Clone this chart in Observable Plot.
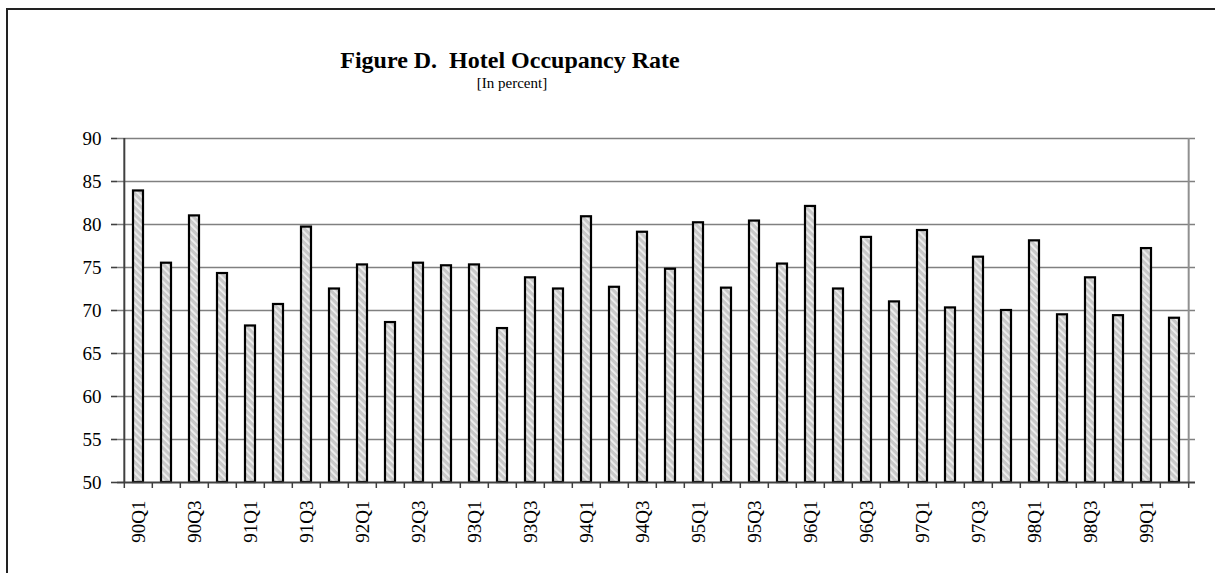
<!DOCTYPE html>
<html><head><meta charset="utf-8">
<script src="https://cdn.jsdelivr.net/npm/d3@7"></script>
<script src="https://cdn.jsdelivr.net/npm/@observablehq/plot@0.6"></script>
<style>
body{margin:0;background:#fff;}
#wrap{position:relative;width:1215px;height:573px;overflow:hidden;font-family:"Liberation Serif","Times New Roman",serif;color:#000;}
#border{position:absolute;left:6px;top:8px;width:1300px;height:700px;border:2px solid #222;box-sizing:border-box;}
#title{position:absolute;left:0;width:1020px;top:48px;text-align:center;font-weight:bold;font-size:24px;white-space:pre;line-height:1;}
#sub{position:absolute;left:0;width:1024px;top:76px;text-align:center;font-size:15px;line-height:1;}
#chart{position:absolute;left:0;top:0;}
</style>
</head><body>
<div id="wrap">
<div id="border"></div>
<div id="chart"></div>
<div id="title">Figure D.  Hotel Occupancy Rate</div>
<div id="sub">[In percent]</div>
</div>
<script>
const quarters = ["90Q1","90Q2","90Q3","90Q4","91Q1","91Q2","91Q3","91Q4","92Q1","92Q2","92Q3","92Q4",
  "93Q1","93Q2","93Q3","93Q4","94Q1","94Q2","94Q3","94Q4","95Q1","95Q2","95Q3","95Q4",
  "96Q1","96Q2","96Q3","96Q4","97Q1","97Q2","97Q3","97Q4","98Q1","98Q2","98Q3","98Q4","99Q1","99Q2"];
const occupancy = [83.9,75.5,81.0,74.3,68.2,70.7,79.7,72.5,75.3,68.6,75.5,75.2,
  75.3,67.9,73.8,72.5,80.9,72.7,79.1,74.8,80.2,72.6,80.4,75.4,
  82.1,72.5,78.5,71.0,79.3,70.3,76.2,70.0,78.1,69.5,73.8,69.4,77.2,69.1];
const labelTicks = ["90Q1","90Q3","91Q1","91Q3","92Q1","92Q3","93Q1","93Q3","94Q1","94Q3",
  "95Q1","95Q3","96Q1","96Q3","97Q1","97Q3","98Q1","98Q3","99Q1"];
const yTicks = [50,55,60,65,70,75,80,85,90];
const yDomain = [50,90];

const data = quarters.map((q,i)=>({q, v: occupancy[i]}));
const W=1215, H=573, mL=117, mR=20, mT=138, mB=91;
const step = (W-mL-mR)/quarters.length;
const first = quarters[0], last = quarters[quarters.length-1];

const svg = Plot.plot({
  width:W, height:H, marginLeft:mL, marginRight:mR, marginTop:mT, marginBottom:mB,
  style:{fontFamily:"'Liberation Serif','Times New Roman',serif", fontSize:"19px", color:"#000", background:"transparent", overflow:"visible"},
  x:{type:"band", domain:quarters, paddingInner:0.65, paddingOuter:0.325, label:null},
  y:{domain:yDomain, label:null},
  marks:[
    Plot.gridY(yTicks.slice(1), {stroke:"#808080", strokeOpacity:1, strokeWidth:1.6}),
    Plot.ruleX([last], {x:d=>d, dx:step/2, stroke:"#909090", strokeWidth:2}),
    Plot.axisY(yTicks, {tickSize:6, tickPadding:10, stroke:"#404040", strokeWidth:1.6, label:null, fill:"#000", fontSize:19}),
    Plot.ruleX(quarters, {x:d=>d, dx:-step/2, insetTop:H-mT-mB, insetBottom:-6, stroke:"#404040", strokeWidth:1.5}),
    Plot.ruleX([last], {x:d=>d, dx:step/2, insetTop:H-mT-mB, insetBottom:-6, stroke:"#404040", strokeWidth:1.5}),
    Plot.axisX(labelTicks, {tickSize:0, tickRotate:-90, tickPadding:18, label:null, fill:"#000", fontSize:19}),
    Plot.barY(data, {x:"q", y1:yDomain[0], y2:"v", fill:"url(#hatch)", stroke:"#000", strokeWidth:2.2}),
    Plot.ruleX([first], {x:d=>d, dx:-step/2, stroke:"#404040", strokeWidth:2}),
    Plot.ruleY([yDomain[0]], {stroke:"#404040", strokeWidth:2})
  ]
});
const ns = "http://www.w3.org/2000/svg";
const defs = document.createElementNS(ns, "defs");
defs.innerHTML = '<pattern id="hatch" width="5" height="5" patternUnits="userSpaceOnUse" patternTransform="rotate(-45)"><rect width="5" height="5" fill="#c8c8c8"/><rect width="1.8" height="5" fill="#efefef"/></pattern>';
svg.insertBefore(defs, svg.firstChild);
document.getElementById("chart").appendChild(svg);
</script>
</body></html>
